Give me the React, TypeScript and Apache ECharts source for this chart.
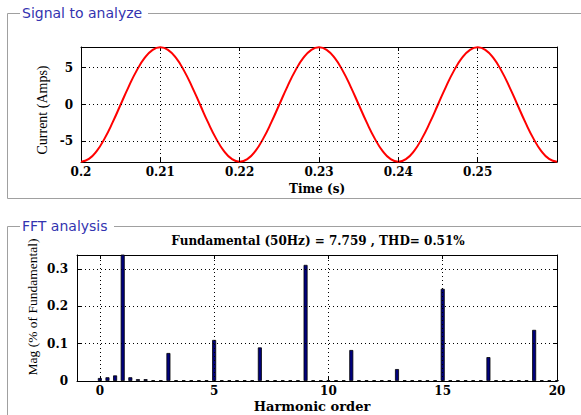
import React, { useEffect, useRef } from "react";
import * as echarts from "echarts";

// ---- Signal to analyze (sampled every 1 ms, from 0.2 s) ----
const timeStart = 0.2;
const timeStep = 0.001;
const currentAmps = [
  -7.76, -7.38, -6.28, -4.56, -2.4, 0.0, 2.4, 4.56, 6.28, 7.38,
  7.76, 7.38, 6.28, 4.56, 2.4, 0.0, -2.4, -4.56, -6.28, -7.38,
  -7.76, -7.38, -6.28, -4.56, -2.4, 0.0, 2.4, 4.56, 6.28, 7.38,
  7.76, 7.38, 6.28, 4.56, 2.4, 0.0, -2.4, -4.56, -6.28, -7.38,
  -7.76, -7.38, -6.28, -4.56, -2.4, 0.0, 2.4, 4.56, 6.28, 7.38,
  7.76, 7.38, 6.28, 4.56, 2.4, 0.0, -2.4, -4.56, -6.28, -7.38,
  -7.76,
];
const timeTicks = [0.2, 0.21, 0.22, 0.23, 0.24, 0.25];
const currentTicks = [-5, 0, 5];

// ---- FFT analysis (bins every 1/3 harmonic, 0..20) ----
const binsPerHarmonic = 3;
const magPercent = [
  0.008, 0.01, 0.015, 100, 0.01, 0.005, 0.005, 0.002, 0.002, 0.075,
  0.002, 0.002, 0.002, 0.002, 0.002, 0.11, 0.002, 0.002, 0.002, 0.002,
  0.002, 0.09, 0.002, 0.002, 0.002, 0.002, 0.002, 0.311, 0.002, 0.002,
  0.002, 0.002, 0.002, 0.083, 0.002, 0.002, 0.002, 0.002, 0.002, 0.032,
  0.002, 0.002, 0.002, 0.002, 0.002, 0.247, 0.002, 0.002, 0.002, 0.002,
  0.002, 0.064, 0.002, 0.002, 0.002, 0.002, 0.002, 0.137, 0.002, 0.002,
  0.002,
];
const harmonicTicks = [0, 5, 10, 15, 20];
const magTicks = [0, 0.1, 0.2, 0.3];

const fftTitle = "Fundamental (50Hz) = 7.759 , THD= 0.51%";

export default function App() {
  const ref = useRef<HTMLDivElement>(null);

  useEffect(() => {
    if (!ref.current) return;
    const chart = echarts.init(ref.current, null, { renderer: "svg" });

    const signalData = currentAmps.map((v, i) => [
      +(timeStart + i * timeStep).toFixed(3),
      v,
    ]);
    const fftData = magPercent.map((v, i) => [i / binsPerHarmonic, v]);

    const tickFont = {
      fontFamily: "DejaVu Serif",
      fontWeight: "bold" as const,
      fontSize: 12,
      color: "#000",
    };
    const axLine = { show: true, onZero: false, lineStyle: { color: "#000", width: 1 } };
    const grid = { color: "#000", width: 1, type: [1, 3] as number[] };

    const mkX = (gi: number, min: number, max: number, ticks: number[], pos: string, labels: boolean) => ({
      gridIndex: gi,
      type: "value",
      min,
      max,
      position: pos,
      axisLine: axLine,
      axisTick: { show: true, inside: true, length: 4, customValues: ticks, lineStyle: { color: "#000" } },
      axisLabel: labels
        ? { show: true, customValues: ticks, margin: 4, ...tickFont }
        : { show: false },
      splitLine: { show: false },
    });
    const mkY = (gi: number, min: number, max: number, ticks: number[], pos: string, labels: boolean, margin: number) => ({
      gridIndex: gi,
      type: "value",
      min,
      max,
      position: pos,
      axisLine: axLine,
      axisTick: { show: true, inside: true, length: 4, customValues: ticks, lineStyle: { color: "#000" } },
      axisLabel: labels
        ? { show: true, customValues: ticks, margin, ...tickFont }
        : { show: false },
      splitLine: { show: false },
    });

    const gridLines = (xs: number[], ys: number[]) => ({
      silent: true,
      symbol: ["none", "none"],
      label: { show: false },
      lineStyle: grid,
      emphasis: { disabled: true },
      data: [...xs.map((x) => ({ xAxis: x })), ...ys.map((y) => ({ yAxis: y }))],
    });

    const gray = "#a0a0a0";
    const boxTitle = {
      fontFamily: "DejaVu Sans",
      fontSize: 14,
      fill: "#3333b0",
    };
    const serifTitle = (text: string, x: number, y: number, size: number, bold: boolean, rot = 0) => ({
      type: "text",
      x,
      y,
      rotation: rot,
      style: {
        text,
        fontFamily: bold ? "DejaVu Serif" : "Liberation Serif",
        fontWeight: bold ? "bold" : "normal",
        fontSize: size,
        fill: "#000",
        align: "center",
        verticalAlign: "middle",
        textAlign: "center",
        textVerticalAlign: "middle",
      },
    });

    chart.setOption({
      animation: false,
      backgroundColor: "#ffffff",
      grid: [
        { left: 81, top: 47, width: 476, height: 115 },
        { left: 77, top: 255, width: 480, height: 126 },
      ],
      xAxis: [
        mkX(0, 0.2, 0.26, timeTicks, "bottom", true),
        mkX(0, 0.2, 0.26, timeTicks, "top", false),
        mkX(1, -1, 20, harmonicTicks, "bottom", true),
        mkX(1, -1, 20, harmonicTicks, "top", false),
      ],
      yAxis: [
        mkY(0, -7.8, 7.8, currentTicks, "left", true, 8),
        mkY(0, -7.8, 7.8, currentTicks, "right", false, 8),
        mkY(1, 0, 0.3375, magTicks, "left", true, 9),
        mkY(1, 0, 0.3375, magTicks, "right", false, 9),
      ],
      series: [
        {
          type: "scatter",
          xAxisIndex: 0,
          yAxisIndex: 0,
          data: [],
          z: 1,
          markLine: gridLines(timeTicks.slice(1), currentTicks),
        },
        {
          type: "line",
          xAxisIndex: 0,
          yAxisIndex: 0,
          data: signalData,
          showSymbol: false,
          smooth: true,
          z: 3,
          lineStyle: { color: "#ff0000", width: 2 },
          itemStyle: { color: "#ff0000" },
        },
        {
          type: "scatter",
          xAxisIndex: 2,
          yAxisIndex: 2,
          data: [],
          z: 1,
          markLine: gridLines(harmonicTicks.slice(0, 4), magTicks.slice(1)),
        },
        {
          type: "bar",
          xAxisIndex: 2,
          yAxisIndex: 2,
          data: fftData,
          barWidth: 4,
          z: 3,
          itemStyle: { color: "#00007c", borderColor: "#000000", borderWidth: 0.8 },
        },
      ],
      graphic: [
        // group boxes
        { type: "polyline", shape: { points: [[20, 13.5], [7.5, 13.5], [7.5, 198.5], [581, 198.5]] }, style: { stroke: gray, lineWidth: 1, fill: null } },
        { type: "line", shape: { x1: 148, y1: 13.5, x2: 581, y2: 13.5 }, style: { stroke: gray, lineWidth: 1 } },
        { type: "polyline", shape: { points: [[20, 226.5], [7.5, 226.5], [7.5, 415]] }, style: { stroke: gray, lineWidth: 1, fill: null } },
        { type: "line", shape: { x1: 114, y1: 226.5, x2: 581, y2: 226.5 }, style: { stroke: gray, lineWidth: 1 } },
        {
          type: "text", x: 22, y: 13,
          style: { text: "Signal to analyze", ...boxTitle, verticalAlign: "middle", textVerticalAlign: "middle" },
        },
        {
          type: "text", x: 22, y: 226,
          style: { text: "FFT analysis", ...boxTitle, verticalAlign: "middle", textVerticalAlign: "middle" },
        },
        serifTitle("Time (s)", 317, 189, 12, true),
        serifTitle("Current (Amps)", 42, 110, 14, false, Math.PI / 2),
        serifTitle(fftTitle, 318, 241, 12, true),
        serifTitle("Mag (% of Fundamental)", 32, 307, 13.5, false, Math.PI / 2),
        serifTitle("Harmonic order", 312, 406, 13, true),
      ],
    });

    return () => chart.dispose();
  }, []);

  return (
    <div
      ref={ref}
      style={{ position: "absolute", left: 0, top: 0, width: 581, height: 415, background: "#fff" }}
    />
  );
}
